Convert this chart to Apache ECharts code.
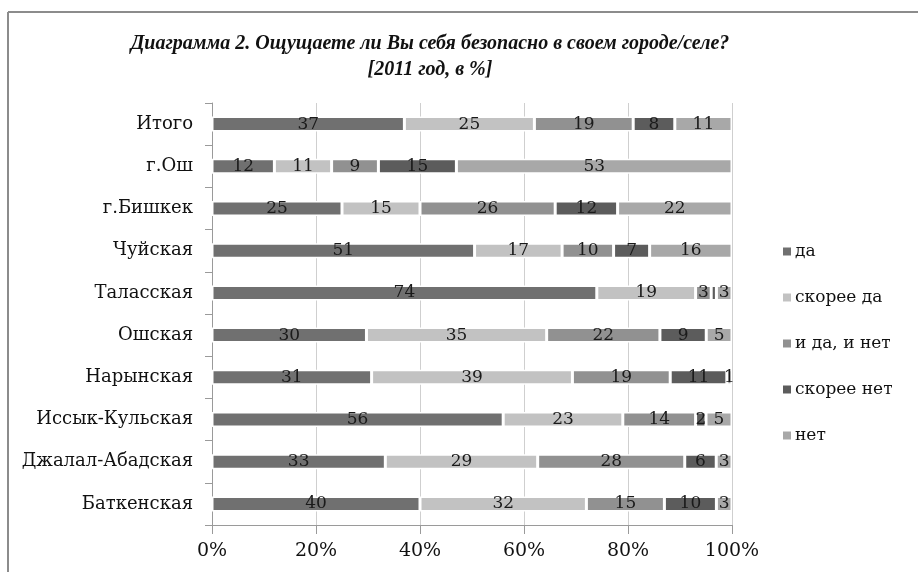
<!DOCTYPE html>
<html>
<head>
<meta charset="utf-8">
<script src="https://cdn.jsdelivr.net/npm/echarts@6/dist/echarts.min.js"></script>
<style>
  html, body { margin: 0; padding: 0; background: #fff; }
  #main { width: 918px; height: 572px; }
</style>
</head>
<body>
<div id="main"></div>
<script>
// regions, top to bottom
var regions = ['Итого', 'г.Ош', 'г.Бишкек', 'Чуйская', 'Таласская', 'Ошская', 'Нарынская', 'Иссык-Кульская', 'Джалал-Абадская', 'Баткенская'];
var answers = ['да', 'скорее да', 'и да, и нет', 'скорее нет', 'нет'];
var colors = ['#707070', '#c2c2c2', '#919191', '#5c5c5c', '#a8a8a8'];

var da        = [37, 12, 25, 51, 74, 30, 31, 56, 33, 40];
var skoreeDa  = [25, 11, 15, 17, 19, 35, 39, 23, 29, 32];
var iDaINet   = [19,  9, 26, 10,  3, 22, 19, 14, 28, 15];
var skoreeNet = [ 8, 15, 12,  7,  1,  9, 11,  2,  6, 10];
var net       = [11, 53, 22, 16,  3,  5,  1,  5,  3,  3];

var seriesValues = [da, skoreeDa, iDaINet, skoreeNet, net];

// totals per region, bars are drawn as share of 100%
var totals = regions.map(function (r, i) {
  return seriesValues.reduce(function (s, arr) { return s + arr[i]; }, 0);
});

var times = '"Liberation Serif", "DejaVu Serif", serif';
var serif = '"DejaVu Serif", "Liberation Serif", serif';

var chart = echarts.init(document.getElementById('main'));

chart.setOption({
  animation: false,
  title: {
    text: 'Диаграмма 2. Ощущаете ли Вы себя безопасно в своем городе/селе?\n[2011 год, в %]',
    left: 425,
    top: 26,
    textAlign: 'center',
    textStyle: {
      fontFamily: times,
      fontStyle: 'italic',
      fontWeight: 'bold',
      fontSize: 20,
      lineHeight: 26,
      color: '#111'
    }
  },
  legend: {
    orient: 'vertical',
    left: 776,
    top: 238,
    itemGap: 29,
    itemWidth: 10,
    itemHeight: 10,
    icon: 'rect',
    data: answers,
    textStyle: { fontFamily: serif, fontSize: 17, color: '#111', padding: [0, 0, 0, -2] }
  },
  grid: {
    left: 212,
    right: 186,
    top: 103,
    bottom: 47
  },
  xAxis: {
    type: 'value',
    min: 0,
    max: 100,
    interval: 20,
    axisLine: { show: true, lineStyle: { color: '#9a9a9a' } },
    axisTick: { show: true, length: 9, lineStyle: { color: '#9a9a9a' } },
    axisLabel: {
      formatter: '{value}%',
      fontFamily: serif,
      fontSize: 19,
      color: '#111',
      margin: 17
    },
    splitLine: { show: true, lineStyle: { color: '#cfcfcf' } }
  },
  yAxis: {
    type: 'category',
    inverse: true,
    data: regions,
    axisLine: { show: true, lineStyle: { color: '#9a9a9a' } },
    axisTick: { show: true, length: 7, lineStyle: { color: '#9a9a9a' } },
    axisLabel: {
      fontFamily: serif,
      fontSize: 18,
      color: '#111',
      margin: 19
    }
  },
  series: answers.map(function (name, k) {
    return {
      name: name,
      type: 'bar',
      stack: 'total',
      barWidth: 15,
      itemStyle: { color: colors[k], borderColor: '#fff', borderWidth: 1.5 },
      label: {
        show: true,
        position: 'inside',
        fontFamily: serif,
        fontSize: 17,
        color: '#1a1a1a',
        formatter: function (p) { return seriesValues[k][p.dataIndex]; }
      },
      data: seriesValues[k].map(function (v, i) {
        var item = { value: v / totals[i] * 100 };
        // the thin 'скорее нет' slice in Таласская carries no label
        if (k === 3 && regions[i] === 'Таласская') item.label = { show: false };
        return item;
      })
    };
  }),
  graphic: [
    { type: 'line', shape: { x1: 8, y1: 12, x2: 918, y2: 12 }, style: { stroke: '#8c8c8c', lineWidth: 2 } },
    { type: 'line', shape: { x1: 8, y1: 12, x2: 8, y2: 572 }, style: { stroke: '#8c8c8c', lineWidth: 2 } }
  ]
});
</script>
</body>
</html>
